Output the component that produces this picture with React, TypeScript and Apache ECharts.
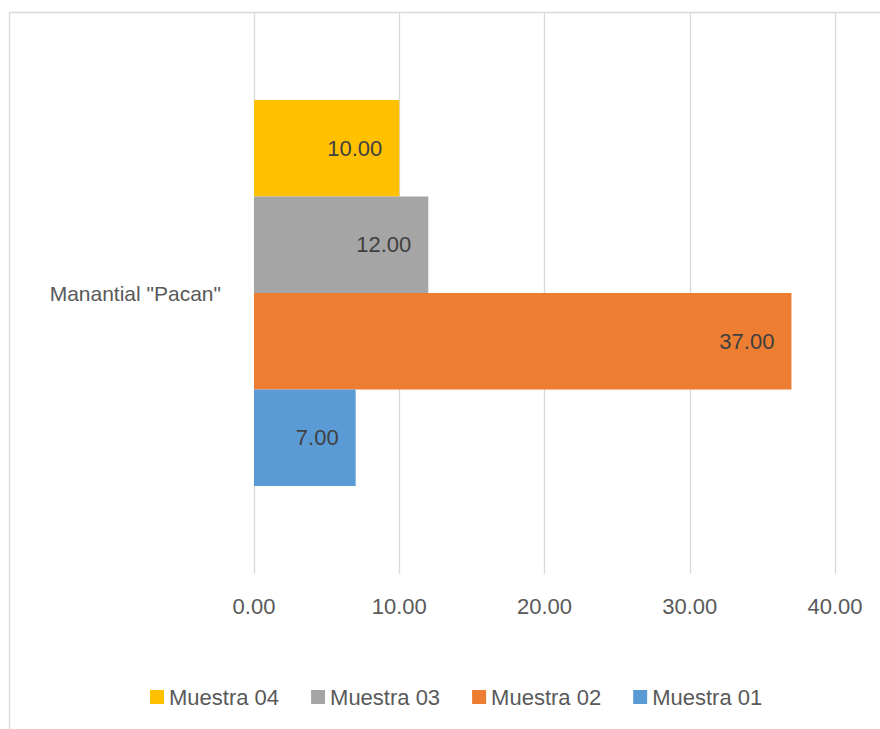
import React, { useEffect, useRef } from "react";
import * as echarts from "echarts";

const categories = ['Manantial "Pacan"'];
// Series are listed top-to-bottom as they stack inside the category band.
const seriesNames = ["Muestra 04", "Muestra 03", "Muestra 02", "Muestra 01"];
const seriesValues = [[10.0], [12.0], [37.0], [7.0]];
const seriesColors = ["#FFC000", "#A5A5A5", "#ED7D31", "#5B9BD5"];
const legendOrder = ["Muestra 04", "Muestra 03", "Muestra 02", "Muestra 01"];
const axisMin = 0;
const axisMax = 40;
const axisStep = 10;

const FONT = "Liberation Sans";
const FS = 22;

export default function App() {
  const ref = useRef<HTMLDivElement>(null);

  useEffect(() => {
    if (!ref.current) return;
    const chart = echarts.init(ref.current, undefined, { renderer: "svg" });
    chart.setOption({
      animation: false,
      backgroundColor: "#ffffff",
      textStyle: { fontFamily: FONT },
      graphic: [
        {
          type: "rect",
          shape: { x: 9.5, y: 12.5, width: 900, height: 800 },
          style: { fill: "none", stroke: "#D9D9D9", lineWidth: 1.3 },
          silent: true,
          z: -1,
        },
      ],
      grid: { left: 254, right: 45, top: 12, bottom: 155, containLabel: false },
      legend: {
        data: legendOrder,
        bottom: 16,
        left: 145,
        itemWidth: 14,
        itemHeight: 14,
        itemGap: 32,
        icon: "rect",
        textStyle: { color: "#595959", fontSize: FS, fontFamily: FONT },
      },
      xAxis: {
        type: "value",
        min: axisMin,
        max: axisMax,
        interval: axisStep,
        axisLine: { show: false },
        axisTick: { show: false },
        splitLine: { show: true, lineStyle: { color: "#D9D9D9", width: 1.3 } },
        axisLabel: {
          color: "#595959",
          fontSize: FS,
          fontFamily: FONT,
          margin: 21,
          formatter: (v: number) => v.toFixed(2),
        },
      },
      yAxis: {
        type: "category",
        data: categories,
        axisLine: { show: false },
        axisTick: { show: false },
        axisLabel: { color: "#595959", fontSize: 21, fontFamily: FONT, margin: 33 },
      },
      series: seriesNames.map((name, i) => ({
        name,
        type: "bar",
        data: seriesValues[i],
        barGap: "0%",
        barCategoryGap: "31.3%",
        itemStyle: { color: seriesColors[i] },
        label: {
          show: true,
          position: "insideRight",
          distance: 17,
          color: "#404040",
          fontSize: FS,
          fontFamily: FONT,
          formatter: (p: any) => Number(p.value).toFixed(2),
        },
      })),
    });
    return () => chart.dispose();
  }, []);

  return (
    <div
      ref={ref}
      style={{ position: "absolute", left: 0, top: 0, width: 880, height: 729 }}
    />
  );
}
